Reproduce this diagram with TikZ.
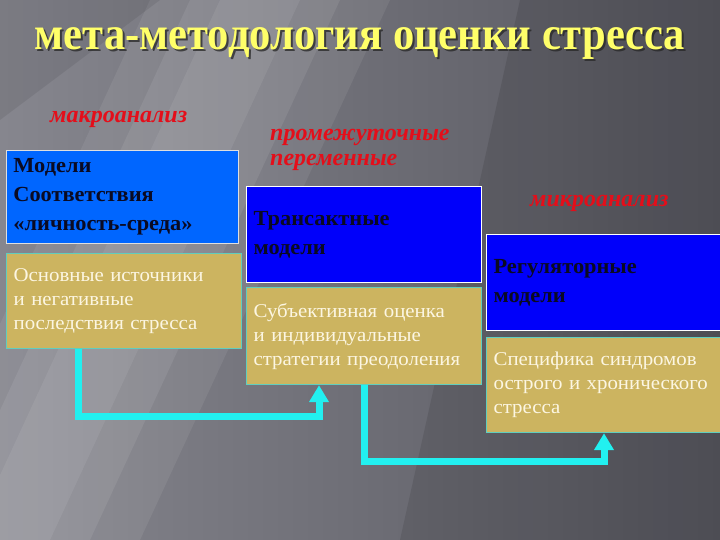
\documentclass[tikz,border=0pt]{standalone}
\usepackage{fontspec}
\setmainfont{Liberation Serif}
\newfontfamily\bluefont[FakeStretch=1.04]{Liberation Serif}
\newfontfamily\tanfont[FakeStretch=1.07]{Liberation Serif}
\newfontfamily\titlefont{Liberation Serif}
\usetikzlibrary{arrows.meta}
\definecolor{bgdark}{RGB}{86,86,94}
\definecolor{bgmid}{RGB}{134,134,142}
\definecolor{boxblueA}{RGB}{0,102,255}
\definecolor{boxblueB}{RGB}{0,0,250}
\definecolor{boxtan}{RGB}{204,180,96}
\definecolor{tanborder}{RGB}{96,206,190}
\definecolor{arrowcyan}{RGB}{34,240,240}
\definecolor{labelred}{RGB}{228,14,26}
\definecolor{titleyellow}{RGB}{255,255,105}
\definecolor{creamtext}{RGB}{252,246,226}
\definecolor{darktext}{RGB}{10,10,34}
\tikzset{
  box/.style={anchor=north west, inner xsep=7pt, inner ysep=0pt, align=left,
    minimum height=95pt, line width=1.2pt},
  bluebox/.style={box, draw=white, text=darktext,
    font=\bluefont\bfseries\fontsize{21.5}{29}\selectfont},
  tanbox/.style={box, fill=boxtan, draw=tanborder, text=creamtext,
    font=\tanfont\fontsize{19.5}{24}\selectfont},
  redlabel/.style={anchor=base west, inner sep=0pt, text=labelred,
    font=\fontsize{24}{24}\selectfont\bfseries\itshape},
  flow/.style={draw=arrowcyan, line width=7pt, line join=miter,
    -{Triangle[width=19pt,length=17pt]}}
}
\begin{document}
\begin{tikzpicture}[x=1pt,y=-1pt]
\useasboundingbox (0,0) rectangle (720,540);
\clip (0,0) rectangle (720,540);
% background
\shade[left color=bgmid, right color=bgdark] (0,0) rectangle (720,540);
\fill[white, opacity=0.07] (150,0) -- (390,0) -- (140,540) -- (-100,540) -- cycle;
\fill[white, opacity=0.08] (190,0) -- (340,0) -- (90,540) -- (-60,540) -- cycle;
\fill[white, opacity=0.07] (220,0) -- (300,0) -- (50,540) -- (-30,540) -- cycle;
\fill[black, opacity=0.10] (520,0) -- (720,0) -- (720,540) -- (400,540) -- cycle;
\fill[black, opacity=0.08] (0,0) -- (160,0) -- (0,120) -- cycle;

% title
\node[anchor=base, inner sep=0pt, text=black!85, opacity=0.75] (titleshadow) at (362,52)
  {\resizebox{650pt}{22pt}{\titlefont\bfseries мета-методология оценки стресса}};
\node[anchor=base, inner sep=0pt, text=titleyellow] (title) at (360,50)
  {\resizebox{650pt}{22pt}{\titlefont\bfseries мета-методология оценки стресса}};

% red labels
\node[redlabel] (macro) at (50,123) {макроанализ};
\node[redlabel] (mid1) at (270,141) {промежуточные};
\node[redlabel] (mid2) at (270,166) {переменные};
\node[redlabel] (micro) at (530,207) {микроанализ};

% boxes
\node[bluebox, fill=boxblueA, draw=white!75!gray, line width=0.8pt, text width=218pt, minimum height=93pt]
  (b1t) at (6,150) {Модели\\Соответствия\\«личность-среда»};
\node[tanbox, text width=221pt] (b1b) at (6,253)
  {Основные источники\\и негативные\\последствия стресса};
\node[bluebox, fill=boxblueB, text width=221pt, minimum height=96pt] (b2t) at (246,186)
  {Трансактные\\модели};
\node[tanbox, text width=221pt, minimum height=97pt] (b2b) at (246,287)
  {Субъективная оценка\\и индивидуальные\\стратегии преодоления};
\node[bluebox, fill=boxblueB, text width=226pt, minimum height=96pt] (b3t) at (486,234)
  {Регуляторные\\модели};
\node[tanbox, text width=226pt] (b3b) at (486,337)
  {Специфика синдромов\\острого и хронического\\стресса};

% connectors
\draw[flow] ([xshift=72pt]b1b.south west) -- ++(0,67) -| ([xshift=73pt]b2b.south west);
\draw[flow] ([xshift=118pt]b2b.south west) -- ++(0,76) -| ([xshift=118pt]b3b.south west);
\end{tikzpicture}
\end{document}
